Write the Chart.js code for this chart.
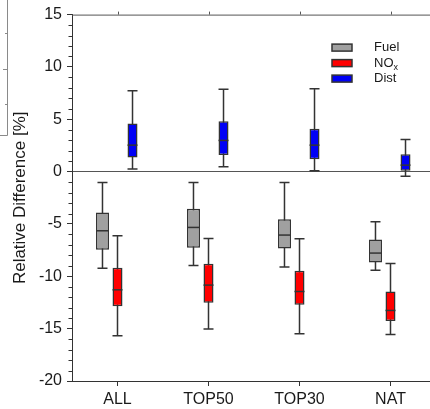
<!DOCTYPE html>
<html>
<head>
<meta charset="utf-8">
<script src="https://cdn.jsdelivr.net/npm/chart.js@4.4.1/dist/chart.umd.min.js"></script>
<style>
  html, body { margin: 0; padding: 0; background: #fff; overflow: hidden; }
  canvas { display: block; }
</style>
</head>
<body>
<canvas id="chart" width="440" height="409"></canvas>
<script>
// categories and box statistics
const categories = ['ALL', 'TOP50', 'TOP30', 'NAT'];

const fuelMin = [-9.22, -8.96, -9.12, -9.41];
const fuelQ1  = [-7.47, -7.27, -7.34, -8.68];
const fuelMed = [-5.65, -5.33, -6.06, -7.78];
const fuelQ3  = [-3.90, -3.55, -4.54, -6.48];
const fuelMax = [-1.03, -1.03, -1.03, -4.79];

const noxMin = [-15.68, -15.04, -15.49, -15.55];
const noxQ1  = [-12.85, -12.53, -12.72, -14.28];
const noxMed = [-11.29, -10.84, -11.45, -13.26];
const noxQ3  = [-9.18, -8.80, -9.47, -11.45];
const noxMax = [-6.13, -6.38, -6.41, -8.77];

const distMin = [0.24, 0.46, 0.08, -0.43];
const distQ1  = [1.35, 1.58, 1.19, 0.08];
const distMed = [2.53, 2.98, 2.53, 0.62];
const distQ3  = [4.60, 4.82, 4.09, 1.67];
const distMax = [7.72, 7.88, 7.91, 3.07];

const yMin = -20, yMax = 15, yMajorStep = 5;

const INK = '#333';
const TXT = '#1a1a1a';
Chart.defaults.font.family = '"Liberation Sans", Arial, sans-serif';

function boxSet(label, color, q1, q3, lo, med, hi, barPct) {
    return {
        label: label,
        data: q1.map((v, i) => [v, q3[i]]),
        whiskerMin: lo, median: med, whiskerMax: hi,
        backgroundColor: color,
        borderColor: INK,
        borderWidth: 1.5,
        borderSkipped: false,
        categoryPercentage: 0.495,
        barPercentage: barPct
    };
}

const boxPlugin = {
    id: 'boxes',
    beforeDatasetsDraw(chart) {
        const ctx = chart.ctx, y = chart.scales.y;
        ctx.save();
        ctx.strokeStyle = INK;
        ctx.lineWidth = 1.5;
        chart.data.datasets.forEach((ds, di) => {
            chart.getDatasetMeta(di).data.forEach((bar, i) => {
                const top = y.getPixelForValue(ds.whiskerMax[i]);
                const bot = y.getPixelForValue(ds.whiskerMin[i]);
                ctx.beginPath();
                ctx.moveTo(bar.x, top); ctx.lineTo(bar.x, bot);
                ctx.moveTo(bar.x - 5, top); ctx.lineTo(bar.x + 5, top);
                ctx.moveTo(bar.x - 5, bot); ctx.lineTo(bar.x + 5, bot);
                ctx.stroke();
            });
        });
        ctx.restore();
    },
    afterDatasetsDraw(chart) {
        const ctx = chart.ctx, y = chart.scales.y;
        ctx.save();
        ctx.strokeStyle = INK;
        ctx.lineWidth = 1.5;
        chart.data.datasets.forEach((ds, di) => {
            chart.getDatasetMeta(di).data.forEach((bar, i) => {
                const m = y.getPixelForValue(ds.median[i]);
                ctx.beginPath();
                ctx.moveTo(bar.x - bar.width / 2, m);
                ctx.lineTo(bar.x + bar.width / 2, m);
                ctx.stroke();
            });
        });
        ctx.restore();
    },
    afterDraw(chart) {
        const ctx = chart.ctx, a = chart.chartArea;
        const x = chart.scales.x, y = chart.scales.y;
        ctx.save();
        // top frame with small outward ticks
        ctx.strokeStyle = '#555';
        ctx.lineWidth = 1;
        ctx.beginPath();
        ctx.moveTo(a.left, a.top + 0.5); ctx.lineTo(a.right, a.top + 0.5);
        categories.forEach((c, i) => {
            const px = Math.round(x.getPixelForValue(i)) + 0.5;
            ctx.moveTo(px, a.top); ctx.lineTo(px, a.top - 3);
        });
        ctx.stroke();
        // minor y ticks
        ctx.strokeStyle = INK;
        ctx.beginPath();
        for (let v = yMin; v <= yMax; v++) {
            if (v % yMajorStep === 0) continue;
            const py = Math.round(y.getPixelForValue(v)) + 0.5;
            ctx.moveTo(a.left - 3.5, py); ctx.lineTo(a.left, py);
        }
        ctx.stroke();

        // legend
        const items = [['Fuel', '#a0a0a0'], ['NO', '#ff0000'], ['Dist', '#0000f5']];
        const lx = a.left + 260, ly = a.top + 33;
        ctx.textBaseline = 'middle';
        items.forEach((it, k) => {
            const cy = ly + k * 15.5;
            ctx.fillStyle = it[1];
            ctx.fillRect(lx, cy - 3.5, 20, 7);
            ctx.strokeStyle = INK;
            ctx.lineWidth = 1.5;
            ctx.strokeRect(lx, cy - 3.5, 20, 7);
            ctx.fillStyle = TXT;
            ctx.font = '13px "Liberation Sans", Arial, sans-serif';
            ctx.fillText(it[0], lx + 42, cy);
            if (it[0] === 'NO') {
                const w = ctx.measureText('NO').width;
                ctx.font = '9px "Liberation Sans", Arial, sans-serif';
                ctx.fillText('x', lx + 42 + w, cy + 4);
            }
        });

        // edge of the neighbouring panel
        ctx.strokeStyle = '#8a8a8a';
        ctx.lineWidth = 1;
        ctx.beginPath();
        ctx.moveTo(7.5, 0); ctx.lineTo(7.5, 135.5); ctx.lineTo(0, 135.5);
        ctx.moveTo(5, 33.5); ctx.lineTo(7.5, 33.5);
        ctx.moveTo(3, 69.5); ctx.lineTo(7.5, 69.5);
        ctx.moveTo(5, 104.5); ctx.lineTo(7.5, 104.5);
        ctx.stroke();
        ctx.restore();
    }
};

new Chart(document.getElementById('chart'), {
    type: 'bar',
    data: {
        labels: categories,
        datasets: [
            boxSet('Fuel', '#a0a0a0', fuelQ1, fuelQ3, fuelMin, fuelMed, fuelMax, 0.867),
            boxSet('NOx', '#ff0000', noxQ1, noxQ3, noxMin, noxMed, noxMax, 0.667),
            boxSet('Dist', '#0000f5', distQ1, distQ3, distMin, distMed, distMax, 0.667)
        ]
    },
    options: {
        responsive: false,
        animation: false,
        layout: { padding: { top: 14, right: 4, left: 0, bottom: 0 } },
        plugins: { legend: { display: false }, tooltip: { enabled: false } },
        scales: {
            x: {
                offset: true,
                grid: { offset: false, drawOnChartArea: false, tickLength: 5, tickColor: INK },
                border: { color: INK, width: 1 },
                ticks: { color: TXT, font: { size: 16 }, padding: 4 },
                afterFit: s => { s.height = 28; }
            },
            y: {
                min: yMin, max: yMax,
                ticks: {
                    stepSize: 1, autoSkip: false, color: TXT, font: { size: 16 }, padding: 5,
                    callback: v => (v % yMajorStep === 0 ? v : '')
                },
                grid: {
                    tickLength: 5,
                    color: c => (c.tick && c.tick.value === 0 ? '#555' : 'rgba(0,0,0,0)'),
                    tickColor: c => (c.tick && c.tick.value % yMajorStep === 0 ? INK : 'rgba(0,0,0,0)')
                },
                border: { color: INK, width: 1 },
                title: {
                    display: true, text: 'Relative Difference [%]', color: TXT,
                    font: { size: 17 }, padding: { top: 10, bottom: 0 }
                },
                afterFit: s => { s.width = 72; }
            }
        }
    },
    plugins: [boxPlugin]
});
</script>
</body>
</html>
